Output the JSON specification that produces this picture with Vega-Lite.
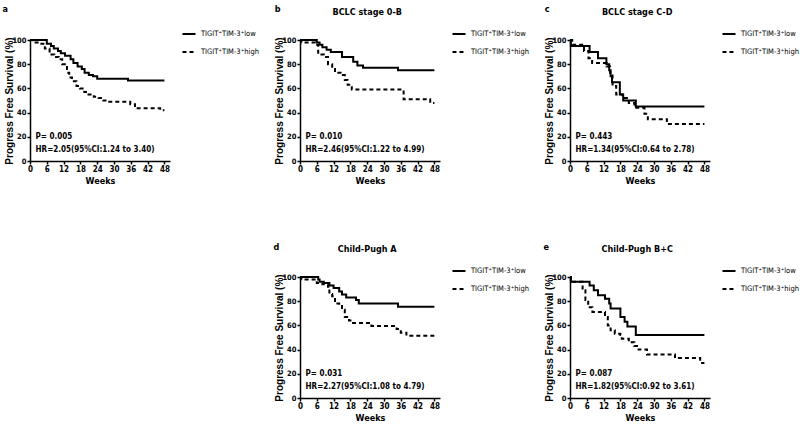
{
  "$schema": "https://vega.github.io/schema/vega-lite/v6.json",
  "padding": {"left": 2, "top": 4, "right": 2, "bottom": 2},
  "background": "white",
  "datasets": {
    "km": [
      {"p":"a","g":"low","w":0,"s":100},{"p":"a","g":"low","w":6,"s":97},{"p":"a","g":"low","w":7.5,"s":95},{"p":"a","g":"low","w":8.5,"s":93},{"p":"a","g":"low","w":10,"s":91},{"p":"a","g":"low","w":11,"s":89},{"p":"a","g":"low","w":12.5,"s":87},{"p":"a","g":"low","w":14.5,"s":84},{"p":"a","g":"low","w":15.5,"s":81},{"p":"a","g":"low","w":17,"s":78},{"p":"a","g":"low","w":18.5,"s":76},{"p":"a","g":"low","w":19.5,"s":73},{"p":"a","g":"low","w":21,"s":71},{"p":"a","g":"low","w":22.5,"s":70},{"p":"a","g":"low","w":24,"s":68},{"p":"a","g":"low","w":35,"s":66.5},{"p":"a","g":"low","w":48,"s":66.5},
      {"p":"a","g":"high","w":0,"s":100},{"p":"a","g":"high","w":1,"s":98},{"p":"a","g":"high","w":3.6,"s":97},{"p":"a","g":"high","w":5.3,"s":93},{"p":"a","g":"high","w":7,"s":88},{"p":"a","g":"high","w":8.7,"s":86},{"p":"a","g":"high","w":10.3,"s":84},{"p":"a","g":"high","w":11.5,"s":80},{"p":"a","g":"high","w":13.2,"s":73},{"p":"a","g":"high","w":14,"s":69},{"p":"a","g":"high","w":15,"s":66},{"p":"a","g":"high","w":16.6,"s":62},{"p":"a","g":"high","w":17.8,"s":60},{"p":"a","g":"high","w":19.4,"s":57},{"p":"a","g":"high","w":20.9,"s":55},{"p":"a","g":"high","w":22.8,"s":53},{"p":"a","g":"high","w":24.5,"s":52},{"p":"a","g":"high","w":26.2,"s":50},{"p":"a","g":"high","w":27.9,"s":49},{"p":"a","g":"high","w":35.8,"s":47},{"p":"a","g":"high","w":37.5,"s":43.5},{"p":"a","g":"high","w":46.5,"s":42},{"p":"a","g":"high","w":48,"s":42},
      {"p":"b","g":"low","w":0,"s":100},{"p":"b","g":"low","w":6,"s":98},{"p":"b","g":"low","w":7,"s":96},{"p":"b","g":"low","w":8,"s":94},{"p":"b","g":"low","w":9.5,"s":92},{"p":"b","g":"low","w":11,"s":90},{"p":"b","g":"low","w":15,"s":86},{"p":"b","g":"low","w":19,"s":82},{"p":"b","g":"low","w":20.5,"s":79},{"p":"b","g":"low","w":22.5,"s":77},{"p":"b","g":"low","w":35,"s":75},{"p":"b","g":"low","w":48,"s":75},
      {"p":"b","g":"high","w":0,"s":100},{"p":"b","g":"high","w":0.5,"s":98},{"p":"b","g":"high","w":5.5,"s":96},{"p":"b","g":"high","w":6.5,"s":88},{"p":"b","g":"high","w":8.5,"s":86},{"p":"b","g":"high","w":10,"s":80},{"p":"b","g":"high","w":11.5,"s":77},{"p":"b","g":"high","w":12.5,"s":73},{"p":"b","g":"high","w":14.5,"s":71},{"p":"b","g":"high","w":16,"s":67},{"p":"b","g":"high","w":17,"s":63},{"p":"b","g":"high","w":18.5,"s":59},{"p":"b","g":"high","w":37,"s":51},{"p":"b","g":"high","w":46.5,"s":48},{"p":"b","g":"high","w":48,"s":48},
      {"p":"c","g":"low","w":0,"s":100},{"p":"c","g":"low","w":0.3,"s":95},{"p":"c","g":"low","w":7,"s":90},{"p":"c","g":"low","w":10,"s":85},{"p":"c","g":"low","w":13,"s":80},{"p":"c","g":"low","w":14,"s":75},{"p":"c","g":"low","w":14.5,"s":70},{"p":"c","g":"low","w":15,"s":65},{"p":"c","g":"low","w":17.8,"s":55},{"p":"c","g":"low","w":19,"s":50},{"p":"c","g":"low","w":23.5,"s":45},{"p":"c","g":"low","w":48,"s":45},
      {"p":"c","g":"high","w":0,"s":100},{"p":"c","g":"high","w":0.8,"s":96},{"p":"c","g":"high","w":5,"s":91},{"p":"c","g":"high","w":6.6,"s":85},{"p":"c","g":"high","w":7.9,"s":81},{"p":"c","g":"high","w":13.1,"s":78},{"p":"c","g":"high","w":14.3,"s":73},{"p":"c","g":"high","w":15.2,"s":62},{"p":"c","g":"high","w":16.5,"s":55},{"p":"c","g":"high","w":18.8,"s":52},{"p":"c","g":"high","w":21,"s":48},{"p":"c","g":"high","w":23,"s":44},{"p":"c","g":"high","w":26.6,"s":39},{"p":"c","g":"high","w":27.8,"s":34.5},{"p":"c","g":"high","w":34.6,"s":30.5},{"p":"c","g":"high","w":48,"s":30.5},
      {"p":"d","g":"low","w":0,"s":100},{"p":"d","g":"low","w":6.5,"s":98},{"p":"d","g":"low","w":7,"s":96},{"p":"d","g":"low","w":8.5,"s":95},{"p":"d","g":"low","w":10.5,"s":93},{"p":"d","g":"low","w":12,"s":91},{"p":"d","g":"low","w":14,"s":88},{"p":"d","g":"low","w":15,"s":85.5},{"p":"d","g":"low","w":16.5,"s":83},{"p":"d","g":"low","w":20,"s":81},{"p":"d","g":"low","w":21,"s":78},{"p":"d","g":"low","w":35,"s":75.5},{"p":"d","g":"low","w":48,"s":75.5},
      {"p":"d","g":"high","w":0,"s":100},{"p":"d","g":"high","w":0.5,"s":98},{"p":"d","g":"high","w":6,"s":95},{"p":"d","g":"high","w":8,"s":94},{"p":"d","g":"high","w":10,"s":92},{"p":"d","g":"high","w":10.5,"s":86},{"p":"d","g":"high","w":11.5,"s":84},{"p":"d","g":"high","w":12.5,"s":78},{"p":"d","g":"high","w":14,"s":76},{"p":"d","g":"high","w":15,"s":73},{"p":"d","g":"high","w":16,"s":67},{"p":"d","g":"high","w":17.5,"s":64},{"p":"d","g":"high","w":18.5,"s":62},{"p":"d","g":"high","w":25.5,"s":59.5},{"p":"d","g":"high","w":34.5,"s":57},{"p":"d","g":"high","w":36,"s":54},{"p":"d","g":"high","w":38,"s":51.5},{"p":"d","g":"high","w":48,"s":51.5},
      {"p":"e","g":"low","w":0,"s":100},{"p":"e","g":"low","w":0.3,"s":96},{"p":"e","g":"low","w":7,"s":93},{"p":"e","g":"low","w":8.5,"s":89},{"p":"e","g":"low","w":10,"s":85},{"p":"e","g":"low","w":12.5,"s":82},{"p":"e","g":"low","w":14,"s":78},{"p":"e","g":"low","w":14.5,"s":74},{"p":"e","g":"low","w":18,"s":67},{"p":"e","g":"low","w":19.5,"s":63},{"p":"e","g":"low","w":20.5,"s":59},{"p":"e","g":"low","w":23.5,"s":52},{"p":"e","g":"low","w":48,"s":52},
      {"p":"e","g":"high","w":0,"s":100},{"p":"e","g":"high","w":0.3,"s":96},{"p":"e","g":"high","w":4.5,"s":89},{"p":"e","g":"high","w":5.5,"s":81},{"p":"e","g":"high","w":6.5,"s":75},{"p":"e","g":"high","w":8,"s":71},{"p":"e","g":"high","w":12.5,"s":67},{"p":"e","g":"high","w":13.5,"s":60},{"p":"e","g":"high","w":14.5,"s":56},{"p":"e","g":"high","w":16,"s":53},{"p":"e","g":"high","w":18,"s":52},{"p":"e","g":"high","w":18.5,"s":49},{"p":"e","g":"high","w":21,"s":46},{"p":"e","g":"high","w":23,"s":43},{"p":"e","g":"high","w":24.5,"s":40},{"p":"e","g":"high","w":27.5,"s":36},{"p":"e","g":"high","w":37.5,"s":33},{"p":"e","g":"high","w":46.5,"s":29},{"p":"e","g":"high","w":48,"s":29}
    ]
  },
  "columns": 3,
  "bounds": "flush",
  "spacing": {"row": 116, "column": 130},
  "resolve": {
    "scale": {"x": "independent", "y": "independent", "strokeDash": "independent"},
    "axis": {"x": "independent", "y": "independent"},
    "legend": {"strokeDash": "independent"}
  },
  "concat": [
    {
      "width": 140, "height": 121,
      "layer": [
        {"data": {"name": "km"}, "transform": [{"filter": "datum.p == 'a'"}],
         "mark": {"type": "line", "interpolate": "step-after", "color": "black", "strokeWidth": 2},
         "encoding": {
           "x": {"field": "w", "type": "quantitative", "scale": {"domain": [0, 48]}, "axis": {"values": [0,6,12,18,24,30,36,42,48], "tickCount": 20, "labelOverlap": false, "title": "Weeks"}},
           "y": {"field": "s", "type": "quantitative", "scale": {"domain": [0, 100]}, "axis": {"values": [0,20,40,60,80,100], "tickCount": 20, "labelOverlap": false, "title": "Progress Free Survival (%)"}},
           "strokeDash": {"field": "g", "type": "nominal", "scale": {"domain": ["low", "high"], "range": [[1, 0], [4, 3]]}, "legend": {"labelExpr": "'TIGIT⁺TIM-3⁺' + datum.label"}}
         }},
        {"data": {"values": [{}]}, "mark": {"type": "text", "align": "left", "fontWeight": "bold", "fontSize": 8}, "encoding": {"x": {"datum": 2}, "y": {"datum": 20}, "text": {"value": "P= 0.005"}}},
        {"data": {"values": [{}]}, "mark": {"type": "text", "align": "left", "fontWeight": "bold", "fontSize": 8}, "encoding": {"x": {"datum": 2}, "y": {"datum": 9.5}, "text": {"value": "HR=2.05(95%CI:1.24 to 3.40)"}}},
        {"data": {"values": [{}]}, "mark": {"type": "text", "align": "left", "fontWeight": "bold", "fontSize": 9}, "encoding": {"x": {"datum": -9.8}, "y": {"datum": 126}, "text": {"value": "a"}}}
      ]
    },
    {
      "width": 140, "height": 121,
      "layer": [
        {"data": {"name": "km"}, "transform": [{"filter": "datum.p == 'b'"}],
         "mark": {"type": "line", "interpolate": "step-after", "color": "black", "strokeWidth": 2},
         "encoding": {
           "x": {"field": "w", "type": "quantitative", "scale": {"domain": [0, 48]}, "axis": {"values": [0,6,12,18,24,30,36,42,48], "tickCount": 20, "labelOverlap": false, "title": "Weeks"}},
           "y": {"field": "s", "type": "quantitative", "scale": {"domain": [0, 100]}, "axis": {"values": [0,20,40,60,80,100], "tickCount": 20, "labelOverlap": false, "title": "Progress Free Survival (%)"}},
           "strokeDash": {"field": "g", "type": "nominal", "scale": {"domain": ["low", "high"], "range": [[1, 0], [4, 3]]}, "legend": {"labelExpr": "'TIGIT⁺TIM-3⁺' + datum.label"}}
         }},
        {"data": {"values": [{}]}, "mark": {"type": "text", "align": "left", "fontWeight": "bold", "fontSize": 8}, "encoding": {"x": {"datum": 2}, "y": {"datum": 20}, "text": {"value": "P= 0.010"}}},
        {"data": {"values": [{}]}, "mark": {"type": "text", "align": "left", "fontWeight": "bold", "fontSize": 8}, "encoding": {"x": {"datum": 2}, "y": {"datum": 9.5}, "text": {"value": "HR=2.46(95%CI:1.22 to 4.99)"}}},
        {"data": {"values": [{}]}, "mark": {"type": "text", "align": "left", "fontWeight": "bold", "fontSize": 9}, "encoding": {"x": {"datum": -9}, "y": {"datum": 126}, "text": {"value": "b"}}},
        {"data": {"values": [{}]}, "mark": {"type": "text", "align": "center", "fontWeight": "bold", "fontSize": 9}, "encoding": {"x": {"datum": 24}, "y": {"datum": 123}, "text": {"value": "BCLC stage 0-B"}}}
      ]
    },
    {
      "width": 140, "height": 121,
      "layer": [
        {"data": {"name": "km"}, "transform": [{"filter": "datum.p == 'c'"}],
         "mark": {"type": "line", "interpolate": "step-after", "color": "black", "strokeWidth": 2},
         "encoding": {
           "x": {"field": "w", "type": "quantitative", "scale": {"domain": [0, 48]}, "axis": {"values": [0,6,12,18,24,30,36,42,48], "tickCount": 20, "labelOverlap": false, "title": "Weeks"}},
           "y": {"field": "s", "type": "quantitative", "scale": {"domain": [0, 100]}, "axis": {"values": [0,20,40,60,80,100], "tickCount": 20, "labelOverlap": false, "title": "Progress Free Survival (%)"}},
           "strokeDash": {"field": "g", "type": "nominal", "scale": {"domain": ["low", "high"], "range": [[1, 0], [4, 3]]}, "legend": {"labelExpr": "'TIGIT⁺TIM-3⁺' + datum.label"}}
         }},
        {"data": {"values": [{}]}, "mark": {"type": "text", "align": "left", "fontWeight": "bold", "fontSize": 8}, "encoding": {"x": {"datum": 2}, "y": {"datum": 20}, "text": {"value": "P= 0.443"}}},
        {"data": {"values": [{}]}, "mark": {"type": "text", "align": "left", "fontWeight": "bold", "fontSize": 8}, "encoding": {"x": {"datum": 2}, "y": {"datum": 9.5}, "text": {"value": "HR=1.34(95%CI:0.64 to 2.78)"}}},
        {"data": {"values": [{}]}, "mark": {"type": "text", "align": "left", "fontWeight": "bold", "fontSize": 9}, "encoding": {"x": {"datum": -9}, "y": {"datum": 126}, "text": {"value": "c"}}},
        {"data": {"values": [{}]}, "mark": {"type": "text", "align": "center", "fontWeight": "bold", "fontSize": 9}, "encoding": {"x": {"datum": 24}, "y": {"datum": 123}, "text": {"value": "BCLC stage C-D"}}}
      ]
    },
    {
      "width": 140, "height": 121,
      "data": {"values": []},
      "mark": {"type": "point", "opacity": 0},
      "encoding": {}
    },
    {
      "width": 140, "height": 121,
      "layer": [
        {"data": {"name": "km"}, "transform": [{"filter": "datum.p == 'd'"}],
         "mark": {"type": "line", "interpolate": "step-after", "color": "black", "strokeWidth": 2},
         "encoding": {
           "x": {"field": "w", "type": "quantitative", "scale": {"domain": [0, 48]}, "axis": {"values": [0,6,12,18,24,30,36,42,48], "tickCount": 20, "labelOverlap": false, "title": "Weeks"}},
           "y": {"field": "s", "type": "quantitative", "scale": {"domain": [0, 100]}, "axis": {"values": [0,20,40,60,80,100], "tickCount": 20, "labelOverlap": false, "title": "Progress Free Survival (%)"}},
           "strokeDash": {"field": "g", "type": "nominal", "scale": {"domain": ["low", "high"], "range": [[1, 0], [4, 3]]}, "legend": {"labelExpr": "'TIGIT⁺TIM-3⁺' + datum.label"}}
         }},
        {"data": {"values": [{}]}, "mark": {"type": "text", "align": "left", "fontWeight": "bold", "fontSize": 8}, "encoding": {"x": {"datum": 2}, "y": {"datum": 20}, "text": {"value": "P= 0.031"}}},
        {"data": {"values": [{}]}, "mark": {"type": "text", "align": "left", "fontWeight": "bold", "fontSize": 8}, "encoding": {"x": {"datum": 2}, "y": {"datum": 9.5}, "text": {"value": "HR=2.27(95%CI:1.08 to 4.79)"}}},
        {"data": {"values": [{}]}, "mark": {"type": "text", "align": "left", "fontWeight": "bold", "fontSize": 9}, "encoding": {"x": {"datum": -9.5}, "y": {"datum": 125}, "text": {"value": "d"}}},
        {"data": {"values": [{}]}, "mark": {"type": "text", "align": "center", "fontWeight": "bold", "fontSize": 9}, "encoding": {"x": {"datum": 24}, "y": {"datum": 123}, "text": {"value": "Child-Pugh A"}}}
      ]
    },
    {
      "width": 140, "height": 121,
      "layer": [
        {"data": {"name": "km"}, "transform": [{"filter": "datum.p == 'e'"}],
         "mark": {"type": "line", "interpolate": "step-after", "color": "black", "strokeWidth": 2},
         "encoding": {
           "x": {"field": "w", "type": "quantitative", "scale": {"domain": [0, 48]}, "axis": {"values": [0,6,12,18,24,30,36,42,48], "tickCount": 20, "labelOverlap": false, "title": "Weeks"}},
           "y": {"field": "s", "type": "quantitative", "scale": {"domain": [0, 100]}, "axis": {"values": [0,20,40,60,80,100], "tickCount": 20, "labelOverlap": false, "title": "Progress Free Survival (%)"}},
           "strokeDash": {"field": "g", "type": "nominal", "scale": {"domain": ["low", "high"], "range": [[1, 0], [4, 3]]}, "legend": {"labelExpr": "'TIGIT⁺TIM-3⁺' + datum.label"}}
         }},
        {"data": {"values": [{}]}, "mark": {"type": "text", "align": "left", "fontWeight": "bold", "fontSize": 8}, "encoding": {"x": {"datum": 2}, "y": {"datum": 20}, "text": {"value": "P= 0.087"}}},
        {"data": {"values": [{}]}, "mark": {"type": "text", "align": "left", "fontWeight": "bold", "fontSize": 8}, "encoding": {"x": {"datum": 2}, "y": {"datum": 9.5}, "text": {"value": "HR=1.82(95%CI:0.92 to 3.61)"}}},
        {"data": {"values": [{}]}, "mark": {"type": "text", "align": "left", "fontWeight": "bold", "fontSize": 9}, "encoding": {"x": {"datum": -9.5}, "y": {"datum": 125}, "text": {"value": "e"}}},
        {"data": {"values": [{}]}, "mark": {"type": "text", "align": "center", "fontWeight": "bold", "fontSize": 9}, "encoding": {"x": {"datum": 24}, "y": {"datum": 123}, "text": {"value": "Child-Pugh B+C"}}}
      ]
    }
  ],
  "config": {
    "view": {"stroke": null},
    "font": "DejaVu Sans Condensed, Liberation Sans, sans-serif",
    "text": {"color": "black", "font": "DejaVu Sans Condensed, Liberation Sans, sans-serif"},
    "axis": {
      "domainColor": "black", "domainWidth": 1.5, "tickColor": "black", "tickWidth": 1.5, "tickSize": 3,
      "labelColor": "black", "labelFont": "DejaVu Sans Condensed, Liberation Sans, sans-serif", "labelFontWeight": "bold", "labelFontSize": 8, "labelPadding": 1.5,
      "titleColor": "black", "titleFontWeight": "bold", "titleFontSize": 9,
      "grid": false, "labelFlush": false, "labelOverlap": false
    },
    "axisY": {"titleFont": "Liberation Sans, Arial, sans-serif", "titleFontSize": 10, "titleX": -21, "titleBaseline": "middle", "labelPadding": 1, "labelFontSize": 7.5},
    "axisX": {"titleFont": "DejaVu Sans Condensed, Liberation Sans, sans-serif", "titlePadding": 3},
    "legend": {
      "orient": "none", "legendX": 151, "legendY": -14, "title": null, "padding": 0,
      "symbolType": "stroke", "symbolSize": 170, "symbolStrokeWidth": 2, "symbolStrokeColor": "black",
      "labelFont": "DejaVu Sans Condensed, Liberation Sans, sans-serif", "labelFontSize": 7.5, "labelColor": "black", "labelOffset": 4,
      "rowPadding": 6
    }
  }
}
